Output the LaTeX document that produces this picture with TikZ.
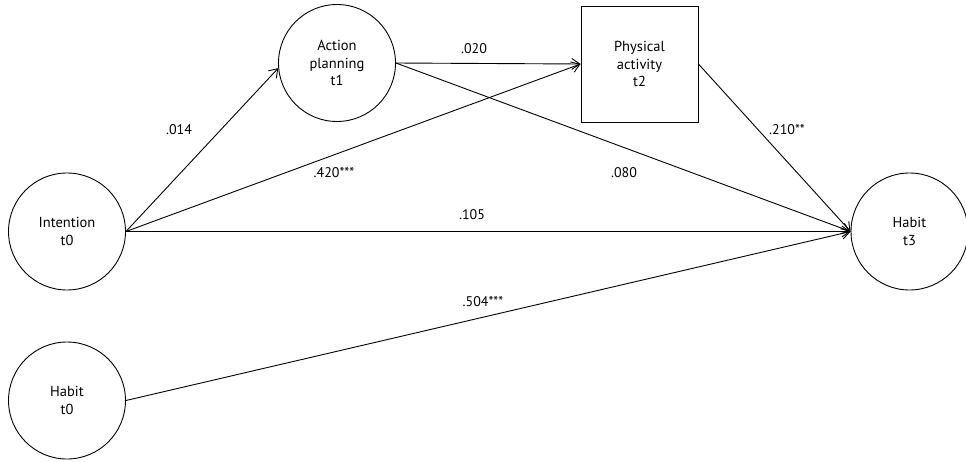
\documentclass[tikz,border=0pt]{standalone}
\usepackage{fontspec}
\setmainfont{PT Sans}
\usetikzlibrary{arrows.meta}
\begin{document}
\begin{tikzpicture}[x=1pt,y=-1pt,
  latent/.style={circle,draw,line width=0.9pt,minimum size=117pt,inner sep=0pt,align=center,font=\fontsize{14.5}{17.5}\selectfont},
  observed/.style={rectangle,draw,line width=0.9pt,minimum width=117pt,minimum height=116pt,inner sep=0pt,align=center,font=\fontsize{14.5}{17.5}\selectfont},
  path/.style={line width=0.9pt,-{Straight Barb[length=8pt,width=11pt,line width=0.9pt]}},
  coef/.style={font=\fontsize{14}{15}\selectfont,inner sep=1pt}]
\useasboundingbox (0,0) rectangle (966,461);
\node[latent] (ap) at (337,63) {Action\\planning\\t1};
\node[observed] (pa) at (639.5,64) {Physical\\activity\\t2};
\node[latent] (int) at (67,231.5) {Intention\\t0};
\node[latent] (h0) at (67,400.5) {Habit\\t0};
\node[latent] (h3) at (909.5,231.5) {Habit\\t3};
\draw[path] (int.east) -- (ap.185);
\draw[path] (int.east) -- (pa.west);
\draw[path] (int.east) -- (h3.west);
\draw[path] (ap.east) -- (pa.west);
\draw[path] (ap.east) -- (h3.west);
\draw[path] (pa.east) -- (h3.west);
\draw[path] (h0.east) -- (h3.west);
\node[coef] (c1) at (179,130) {.014};
\node[coef] (c2) at (474,49) {.020};
\node[coef] (c3) at (334,173) {.420***};
\node[coef] (c4) at (624,173) {.080};
\node[coef] (c5) at (787,130) {.210**};
\node[coef] (c6) at (472,215) {.105};
\node[coef] (c7) at (483,302) {.504***};
\end{tikzpicture}
\end{document}
